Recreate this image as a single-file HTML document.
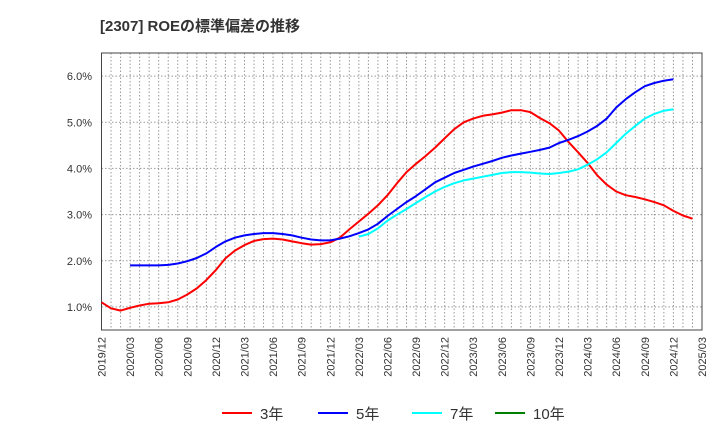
<!DOCTYPE html>
<html><head><meta charset="utf-8"><style>
body{margin:0;background:#fff;font-family:"Liberation Sans","Noto Sans CJK JP",sans-serif;}
svg text{font-family:"Liberation Sans","Noto Sans CJK JP",sans-serif;}
</style></head><body>
<svg id="c" width="720" height="440" xmlns="http://www.w3.org/2000/svg">
<text x="100" y="31" font-size="15" font-weight="bold" fill="#333">[2307]  ROEの標準偏差の推移</text>
<g id="grid"></g><g id="axes"></g><g id="series"></g><g id="legend"></g>
</svg>
<script>
const xTickLabels=["2019/12","2020/03","2020/06","2020/09","2020/12","2021/03","2021/06","2021/09","2021/12","2022/03","2022/06","2022/09","2022/12","2023/03","2023/06","2023/09","2023/12","2024/03","2024/06","2024/09","2024/12","2025/03"];
const yTickValues=[1,2,3,4,5,6];
const seriesNames=["3年","5年","7年","10年"];
const seriesColors=["#ff0000","#0000ff","#00ffff","#008000"];
const red3=[1.1,0.97,0.92,0.98,1.03,1.07,1.08,1.1,1.16,1.27,1.4,1.58,1.8,2.05,2.22,2.34,2.43,2.47,2.48,2.46,2.42,2.38,2.35,2.36,2.4,2.5,2.68,2.85,3.02,3.2,3.42,3.68,3.92,4.1,4.27,4.45,4.65,4.85,5.0,5.08,5.14,5.17,5.21,5.26,5.26,5.22,5.09,4.98,4.82,4.57,4.35,4.12,3.85,3.65,3.5,3.42,3.38,3.33,3.27,3.2,3.08,2.98,2.91];
const blue5=[null,null,null,1.9,1.9,1.9,1.9,1.91,1.94,1.99,2.06,2.16,2.3,2.42,2.5,2.55,2.58,2.6,2.6,2.58,2.55,2.5,2.46,2.44,2.44,2.48,2.53,2.6,2.68,2.8,2.97,3.12,3.27,3.4,3.55,3.7,3.8,3.9,3.97,4.04,4.1,4.16,4.23,4.28,4.32,4.36,4.4,4.45,4.55,4.62,4.7,4.8,4.92,5.08,5.32,5.5,5.65,5.78,5.85,5.9,5.93];
const cyan7=[null,null,null,null,null,null,null,null,null,null,null,null,null,null,null,null,null,null,null,null,null,null,null,null,null,null,null,2.52,2.58,2.7,2.87,3.0,3.12,3.25,3.38,3.5,3.6,3.68,3.74,3.78,3.82,3.86,3.9,3.92,3.92,3.91,3.89,3.88,3.9,3.93,3.98,4.08,4.2,4.35,4.55,4.75,4.92,5.08,5.18,5.25,5.28];
const green10=[];
const X0=101.5,X1=702,Y0=53,Y1=330,NM=63,YMIN=0.5,YMAX=6.5;
const xs=m=>X0+(X1-X0)*m/NM;
const ys=v=>Y1-(Y1-Y0)*(v-YMIN)/(YMAX-YMIN);
const NS="http://www.w3.org/2000/svg";
function mk(tag,parent){const e=document.createElementNS(NS,tag);document.getElementById(parent).appendChild(e);return e;}
for(let m=1;m<NM;m++){const l=mk('line','grid');


l.setAttribute('x1',xs(m));l.setAttribute('x2',xs(m));l.setAttribute('y1',Y0);l.setAttribute('y2',Y1);l.setAttribute('stroke','#999');l.setAttribute('stroke-dasharray','1.5,2');l.setAttribute('stroke-width','1');}
yTickValues.forEach(v=>{const l=mk('line','grid');


l.setAttribute('x1',X0);l.setAttribute('x2',X1);l.setAttribute('y1',ys(v));l.setAttribute('y2',ys(v));l.setAttribute('stroke','#999');l.setAttribute('stroke-dasharray','1.5,2');
const t=mk('text','axes');


t.setAttribute('x',92);t.setAttribute('y',ys(v)+4);t.setAttribute('text-anchor','end');t.setAttribute('font-size','11');t.setAttribute('fill','#333');t.textContent=v.toFixed(1)+'%';});
const fr=mk('rect','axes');


fr.setAttribute('x',X0);fr.setAttribute('y',Y0);fr.setAttribute('width',X1-X0);fr.setAttribute('height',Y1-Y0);fr.setAttribute('fill','none');fr.setAttribute('stroke','#444');
xTickLabels.forEach((s,i)=>{const t=mk('text','axes');


const x=xs(i*3)+4,y=337;t.setAttribute('x',x);t.setAttribute('y',y);t.setAttribute('text-anchor','end');t.setAttribute('font-size','11');t.setAttribute('fill','#333');t.setAttribute('transform',`rotate(-90 ${x} ${y})`);t.textContent=s;});
[red3,blue5,cyan7,green10].forEach((arr,k)=>{let d='';arr.forEach((v,m)=>{if(v==null)return;d+=(d?'L':'M')+xs(m).toFixed(1)+','+ys(v).toFixed(1);});
if(!d)return;const p=mk('path','series');


p.setAttribute('d',d);p.setAttribute('fill','none');p.setAttribute('stroke',seriesColors[k]);p.setAttribute('stroke-width','2');p.setAttribute('stroke-linejoin','round');});
const lx=[222,318,412,495];
seriesNames.forEach((n,k)=>{const l=mk('line','legend');


l.setAttribute('x1',lx[k]);l.setAttribute('x2',lx[k]+30);l.setAttribute('y1',413);l.setAttribute('y2',413);l.setAttribute('stroke',seriesColors[k]);l.setAttribute('stroke-width','2');
const t=mk('text','legend');


t.setAttribute('x',lx[k]+38);t.setAttribute('y',419);t.setAttribute('font-size','15');t.setAttribute('fill','#333');t.textContent=n;});
</script>
</body></html>
